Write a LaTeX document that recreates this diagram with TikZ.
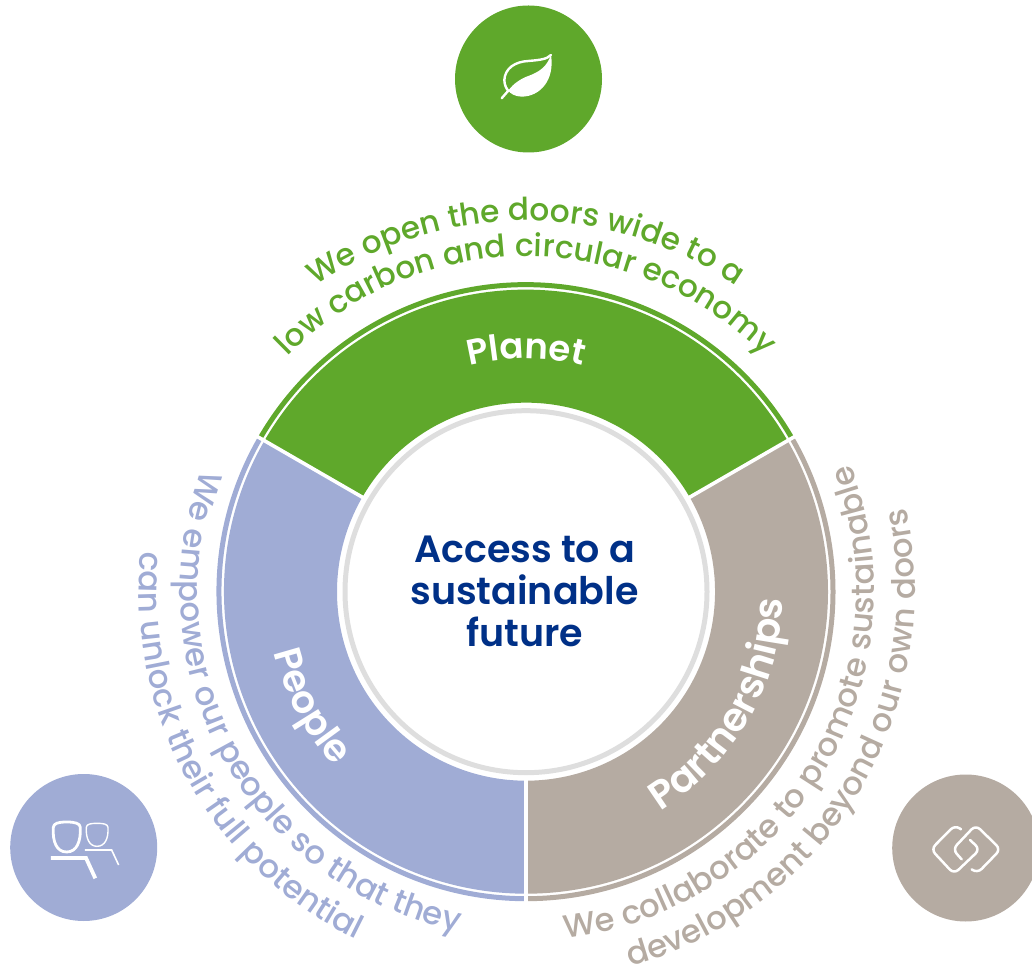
\documentclass[tikz,border=0pt]{standalone}
\usepackage{fontspec}
\setmainfont{Poppins}[BoldFont={Poppins SemiBold}]
\usetikzlibrary{decorations.text,calc}
\definecolor{cgreen}{HTML}{5FA82B}
\definecolor{cblue}{HTML}{A0ACD5}
\definecolor{ctaupe}{HTML}{B5ABA2}
\definecolor{cnavy}{HTML}{003087}
\definecolor{cgray}{HTML}{DEDEDE}
\newcommand{\arcText}[5]{% radius, start, end, style, text
  \path[decorate,decoration={text along path,text align=center,text={|#4|#5}}]
    ($(c)+(#2:#1)$) arc[start angle=#2,end angle=#3,radius=#1];}
\newcommand{\lab}{\fontspec{Poppins SemiBold}\fontsize{38}{40}\selectfont\color{white}}
\newcommand{\labw}{\fontspec{Poppins SemiBold}\fontsize{39.5}{42}\selectfont\color{white}}
\newcommand{\labp}{\fontspec{Poppins SemiBold}\fontsize{35.5}{38}\selectfont\color{white}}
\newcommand{\body}{\fontspec{Poppins Medium}\fontsize{31.2}{33}\selectfont}
\newcommand{\bodys}{\fontspec{Poppins Medium}\fontsize{32.3}{34}\selectfont}
\tikzset{
  disc/.style={circle,inner sep=0pt,minimum size=147pt},
  ic/.style={draw=white,line width=2pt,line join=round,line cap=round},
  centertext/.style={align=center,text=cnavy,font=\fontsize{38}{42}\selectfont\bfseries}
}
\newcommand{\sector}[3]{\fill[#3] ($(c)+(#1:302)$) arc[start angle=#1,end angle=#2,radius=302] -- ($(c)+(#2:189)$) arc[start angle=#2,end angle=#1,radius=189] -- cycle;
  \draw[#3,line width=5pt] ($(c)+(#1:307)$) arc[start angle=#1,end angle=#2,radius=307];}
\begin{document}
\begin{tikzpicture}[x=1pt,y=1pt]
\useasboundingbox (0,0) rectangle (1032,969);
\coordinate (c) at (526,377.3);
\sector{30}{150}{cgreen}
\sector{150}{270}{cblue}
\sector{270}{390}{ctaupe}
\foreach \a in {30,150,270}{\draw[white,line width=3.6pt] ($(c)+(\a:175)$) -- ($(c)+(\a:315)$);}
\node[circle,draw=cgray,line width=5pt,fill=white,inner sep=0pt,minimum size=362pt] (hub) at (c) {};
\node[centertext] (title) at (524.5,377.5) {Access to a\\sustainable\\future};
% arc labels
\arcText{233}{150}{30}{\labp}{Planet}
\arcText{259}{178}{238}{\lab}{People}
\arcText{257}{270}{390}{\labw}{Partnerships}
\arcText{371}{150}{30}{\body\color{cgreen}}{We open the doors wide to a}
\arcText{335}{150}{30}{\body\color{cgreen}}{low carbon and circular economy}
\arcText{346}{139}{279}{\bodys\color{cblue}}{We empower our people so that they}
\arcText{387}{139}{279}{\bodys\color{cblue}}{can unlock their full potential}
\arcText{348.5}{259}{399}{\bodys\color{ctaupe}}{We collaborate to promote sustainable}
\arcText{389}{259}{399}{\bodys\color{ctaupe}}{development beyond our own doors}
% discs
\node[disc,fill=cgreen] (dplanet) at (528.5,890) {};
\node[disc,fill=cblue] (dpeople) at (83.7,121.5) {};
\node[disc,fill=ctaupe] (dpartner) at (965.7,121) {};
% leaf
\begin{scope}[shift={(440,969)},x=0.3333pt,y=-0.3333pt]
\draw[ic,line width=2.4pt] (333,165) .. controls (320,178) and (300,180) .. (265,183) .. controls (225,185) and (195,205) .. (193,240) .. controls (193,255) and (200,268) .. (205,272);
\draw[ic,line width=2.4pt] (185,295) -- (205,272);
\fill[white] (205,272) .. controls (220,250) and (245,235) .. (265,228) .. controls (300,215) and (320,200) .. (333,165) .. controls (345,240) and (300,290) .. (245,290) .. controls (225,290) and (210,280) .. (205,272) -- cycle;
\end{scope}
% people
\begin{scope}[shift={(0,969-770)},x=0.3333pt,y=-0.3333pt]
\draw[ic,line width=2.8pt] (200,156) .. controls (225,156) and (240,160) .. (241,172) .. controls (243,215) and (230,246) .. (200,246) .. controls (170,246) and (157,215) .. (160,172) .. controls (161,160) and (175,156) .. (200,156) -- cycle;
\draw[draw=white,line width=3.8pt,line join=miter] (153,264) -- (258,264) -- (286,325);
\draw[ic,line width=1.4pt] (291,160) .. controls (310,160) and (323,162) .. (324,172) .. controls (326,205) and (315,229) .. (291,229) .. controls (268,229) and (257,205) .. (259,172) .. controls (260,162) and (272,160) .. (291,160) -- cycle;
\draw[draw=white,line width=1.6pt,line join=miter] (255,240) -- (335,240) -- (356,285);
\end{scope}
% link
\begin{scope}[shift={(880,969-770)},x=0.3333pt,y=-0.3333pt]
\draw[ic,line width=2.5pt,rounded corners=6pt] (243,178) -- (225,165) -- (153,238) -- (222,312) -- (300,238) -- (270,210);
\draw[ic,line width=2.5pt,rounded corners=6pt] (245,268) -- (218,238) -- (287,165) -- (362,238) -- (292,310) -- (275,298);
\end{scope}
\end{tikzpicture}
\end{document}
